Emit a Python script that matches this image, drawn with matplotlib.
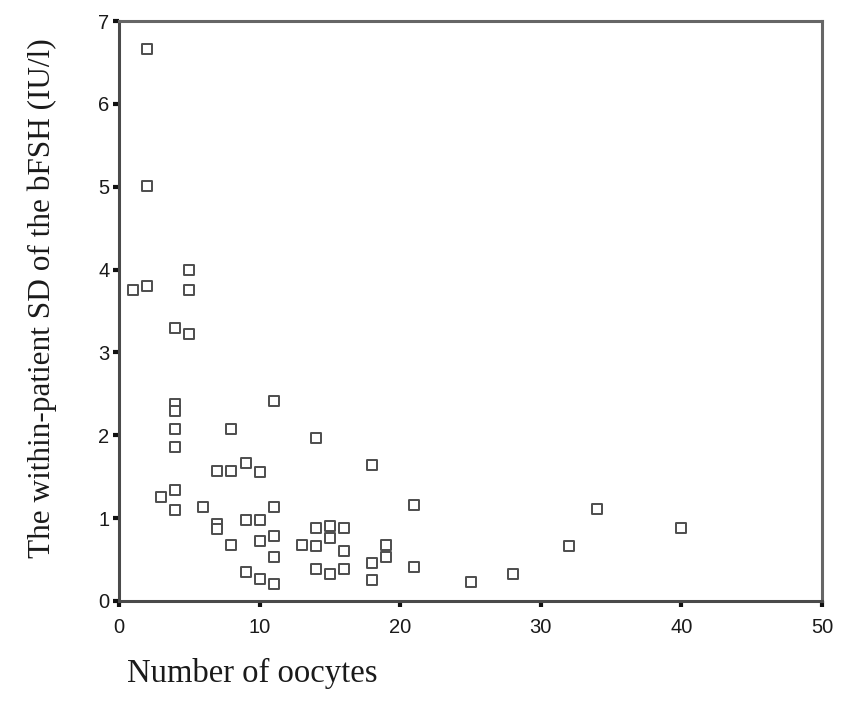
import matplotlib
matplotlib.use("Agg")
import matplotlib.pyplot as plt

# Number of oocytes per patient and the within-patient SD of basal FSH (IU/l)
oocytes = [1, 2, 2, 2, 3,
           4, 4, 4, 4, 4, 4, 4,
           5, 5, 5, 6, 7, 7, 7,
           8, 8, 8, 9, 9, 9,
           10, 10, 10, 10,
           11, 11, 11, 11, 11,
           13, 14, 14, 14, 14,
           15, 15, 15, 16, 16, 16,
           18, 18, 18, 19, 19, 21, 21,
           25, 28, 32, 34, 40]
sd_bfsh = [3.75, 6.66, 5.01, 3.80, 1.25,
           3.29, 2.38, 2.29, 2.07, 1.86, 1.34, 1.10,
           3.99, 3.75, 3.22, 1.14, 1.57, 0.93, 0.87,
           2.07, 1.57, 0.68, 1.67, 0.98, 0.35,
           1.56, 0.98, 0.72, 0.27,
           2.41, 1.14, 0.79, 0.53, 0.21,
           0.68, 1.97, 0.88, 0.66, 0.39,
           0.91, 0.76, 0.33, 0.88, 0.60, 0.39,
           1.64, 0.46, 0.25, 0.67, 0.53, 1.16, 0.41,
           0.23, 0.33, 0.66, 1.11, 0.88]

x_ticks = [0, 10, 20, 30, 40, 50]
y_ticks = [0, 1, 2, 3, 4, 5, 6, 7]

W, H = 850, 702
fig = plt.figure(figsize=(W / 100, H / 100), dpi=100)
fig.patch.set_facecolor("white")

left, right, top, bottom = 119, 822, 21, 601
ax = fig.add_axes([left / W, 1 - bottom / H, (right - left) / W, (bottom - top) / H])

ax.scatter(oocytes, sd_bfsh, marker="s", s=42, facecolors="white",
           edgecolors="#4d4d4d", linewidths=1.4, zorder=3, clip_on=False)

ax.set_xlim(0, 50)
ax.set_ylim(0, 7)
ax.set_xticks(x_ticks)
ax.set_yticks(y_ticks)

for side in ("left", "bottom"):
    ax.spines[side].set_color("#4a4a4a")
    ax.spines[side].set_linewidth(2.2)
for side in ("top", "right"):
    ax.spines[side].set_color("#666666")
    ax.spines[side].set_linewidth(2.2)

ax.tick_params(axis="both", direction="out", length=4, width=3, color="#111111",
               labelsize=14.5, labelcolor="#1a1a1a")
ax.tick_params(axis="x", pad=8)
ax.tick_params(axis="y", pad=3)
for lab in ax.get_xticklabels() + ax.get_yticklabels():
    lab.set_fontfamily("Liberation Sans")

fig.text(42 / W, 1 - 298 / H, "The within-patient SD of the bFSH (IU/l)",
         rotation=90, ha="center", va="center", fontsize=22.5,
         family="Liberation Serif", color="#1a1a1a")
fig.text(127 / W, 1 - 673 / H, "Number of oocytes", ha="left", va="center",
         fontsize=23.5, family="Liberation Serif", color="#1a1a1a")

fig.savefig("out.png", dpi=100, facecolor="white")
